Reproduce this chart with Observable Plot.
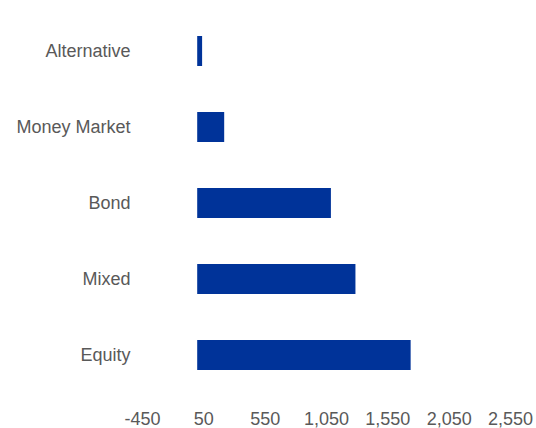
<!DOCTYPE html>
<html>
<head>
<meta charset="utf-8">
<script src="https://cdn.jsdelivr.net/npm/d3@7"></script>
<script src="https://cdn.jsdelivr.net/npm/@observablehq/plot@0.6"></script>
<style>
  html, body { margin: 0; padding: 0; background: #fff; }
  #chart svg { display: block; }
</style>
</head>
<body>
<div id="chart"></div>
<script>
const categories = ["Alternative", "Money Market", "Bond", "Mixed", "Equity"];
const values = [40, 220, 1090, 1290, 1740];
const xTicks = [-450, 50, 550, 1050, 1550, 2050, 2550];

const data = categories.map((c, i) => ({category: c, value: values[i]}));
const fmt = d => d3.format(",")(d).replace("\u2212", "-");

const chart = Plot.plot({
  width: 536,
  height: 428,
  marginTop: 11,
  marginBottom: 33,
  marginLeft: 142,
  marginRight: 26,
  style: {fontFamily: "'Liberation Sans', Arial, sans-serif", fontSize: "18px", color: "#595959", background: "#fff"},
  x: {domain: [-450, 2550], ticks: xTicks, tickFormat: fmt, tickSize: 0, tickPadding: 17, label: null},
  y: {domain: categories, paddingInner: 0.6, paddingOuter: 0.3, tickSize: 0, tickPadding: 12, label: null},
  marks: [
    Plot.barX(data, {x1: 0, x2: "value", y: "category", fill: "#003399"})
  ]
});
document.getElementById("chart").appendChild(chart);
</script>
</body>
</html>
